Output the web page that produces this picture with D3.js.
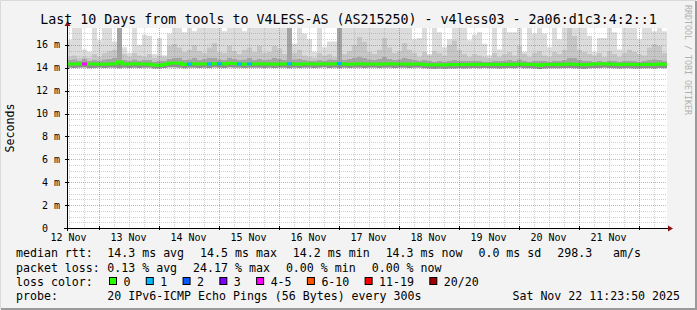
<!DOCTYPE html>
<html>
<head>
<meta charset="utf-8">
<script src="https://cdn.jsdelivr.net/npm/d3@7"></script>
<style>
  body { margin: 0; background: #f3f3f3; }
  svg { display: block; }
  text { font-family: "DejaVu Sans Mono", monospace; white-space: pre; }
</style>
</head>
<body>
<svg id="chart" width="697" height="310"></svg>
<script>
// data, one value per 2h column (120 columns = 10 days)
var startTime = Date.UTC(2025, 10, 12, 11, 23, 50);
var stepMs = 2 * 3600 * 1000;

var median = [
  14.33,14.33,14.35,14.34,14.33,14.33,14.32,14.31,14.33,14.35,14.5,14.33,14.33,14.35,14.33,14.33,14.32,14.24,14.23,14.3,
  14.4,14.42,14.4,14.28,14.33,14.35,14.33,14.34,14.33,14.36,14.35,14.33,14.4,14.38,14.33,14.32,14.34,14.33,14.35,14.34,
  14.33,14.32,14.33,14.34,14.36,14.33,14.32,14.35,14.33,14.34,14.33,14.36,14.33,14.34,14.38,14.33,14.32,14.33,14.35,14.33,
  14.34,14.33,14.32,14.33,14.35,14.33,14.34,14.33,14.32,14.33,14.34,14.3,14.27,14.26,14.27,14.25,14.28,14.26,14.3,14.29,
  14.3,14.31,14.3,14.32,14.3,14.31,14.29,14.3,14.32,14.3,14.33,14.31,14.3,14.29,14.22,14.28,14.3,14.31,14.3,14.32,
  14.33,14.31,14.3,14.26,14.3,14.34,14.33,14.35,14.33,14.31,14.3,14.32,14.31,14.3,14.28,14.3,14.31,14.3,14.33,14.31
];
// lowest ping
var lowPing = [
  14.0,13.98,14.0,14.02,13.97,13.99,14.0,13.98,14.01,14.0,13.96,14.0,13.99,14.01,13.98,14.0,14.0,13.95,13.94,13.99,
  14.02,14.03,14.0,13.97,14.0,14.01,13.99,14.0,13.98,14.02,14.0,13.99,14.03,14.01,14.0,13.98,14.0,14.01,14.0,13.99,
  14.0,13.99,14.0,14.01,13.96,14.0,13.98,14.01,14.0,13.99,14.0,14.02,13.99,14.0,13.97,14.0,13.99,14.0,14.01,13.99,
  14.0,14.0,13.98,14.0,14.01,13.99,14.0,14.0,13.98,14.0,14.0,13.96,13.93,13.92,13.94,13.92,13.95,13.93,13.96,13.95,
  13.97,13.98,13.96,13.98,13.97,13.96,13.95,13.97,13.98,13.96,14.0,13.97,13.96,13.95,13.9,13.94,13.96,13.97,13.96,13.98,
  13.98,13.96,13.95,13.92,13.96,13.99,13.98,14.0,13.98,13.96,13.95,13.97,13.96,13.95,13.94,13.96,13.97,13.95,13.98,13.96
];
// upper edge of the dark smoke band
var smokeInner = [
  14.7,14.75,14.65,14.8,14.6,14.7,14.65,14.75,14.8,14.9,18,14.7,14.6,14.75,14.65,14.7,14.7,14.55,14.6,14.65,
  14.8,14.85,14.9,14.7,14.75,14.85,14.7,14.8,14.9,14.85,14.75,14.7,14.9,14.8,14.7,14.75,14.85,14.7,14.8,14.7,
  14.75,14.9,14.8,14.7,18,14.75,14.8,14.7,14.65,14.6,14.7,14.65,14.75,14.7,18,14.7,14.8,14.9,15.0,14.85,
  14.75,14.7,14.8,14.95,14.8,14.7,14.75,14.85,14.8,14.7,14.65,14.7,14.6,14.55,14.6,14.55,14.65,14.7,14.6,14.65,
  14.6,14.65,14.6,14.55,14.5,14.65,14.6,14.65,14.7,14.6,14.75,14.6,14.55,14.6,14.65,14.6,14.55,14.65,14.6,14.7,
  14.9,14.85,14.7,14.65,14.6,14.55,14.6,14.55,14.65,14.6,14.55,14.6,14.65,14.6,14.55,14.6,14.7,14.75,14.7,14.6
];
// upper edge of the medium smoke band
var smokeMid = [
  15.0,15.1,14.9,15.0,14.9,15.2,15.0,15.3,15.5,15.6,16.0,15.2,15.0,15.3,15.1,15.0,15.2,14.9,15.1,15.0,
  15.9,16.1,15.8,15.4,15.6,16.0,15.5,15.3,15.8,16.2,15.4,15.3,15.9,15.5,15.2,15.6,15.8,15.4,15.9,15.3,
  15.4,15.9,15.7,15.2,15.5,15.3,15.6,15.1,15.0,14.9,15.3,15.1,15.2,15.0,15.6,15.2,15.5,16.0,16.7,16.3,
  15.4,15.2,15.6,16.6,15.8,15.3,15.5,16.2,15.6,15.3,15.0,15.4,15.1,15.5,15.3,15.1,16.0,16.4,15.6,15.2,
  15.0,15.2,15.1,15.0,14.9,15.3,15.0,15.2,15.4,15.1,15.9,15.2,15.0,15.3,15.5,15.1,15.0,15.4,15.2,15.6,
  17.5,16.8,15.6,15.4,15.2,15.1,15.3,15.0,15.5,15.2,15.0,15.3,15.6,15.4,15.2,15.1,15.8,16.1,15.9,15.3
];
// highest ping (values above the top are clipped)
var highPing = [
  16.4,18,18,15.6,15.4,18,16.4,18,18,16.3,18,15.8,15.3,18,16.0,16.9,16.8,15.2,16.6,15.1,
  17.0,18,18,17.1,18,17.2,18,18,18,18,18,17.2,18,18,18,17.2,18,18,18,18,
  18,18,18,18,18,16.1,18,17.0,16.5,15.4,18,15.8,16.3,16.3,18,18,18,18,18,18,
  18,18,18,18,18,18,18,18,18,16.5,16.6,18,15.2,18,17.1,15.8,16.5,18,18,18,
  16.4,16.9,17.1,16.1,15.1,18,15.6,18,17.1,17.1,18,15.4,18,17.0,18,17.0,15.8,18,16.5,18,
  18,18,18,18,16.8,15.4,16.6,16.6,18,17.1,15.6,18,18,18,16.5,18,18,17.2,18,17.2
];
// columns with packet loss (pings lost out of 20)
var lossColumns = [3, 24, 28, 30, 34, 36, 44, 54];
var lossCounts  = [4, 1, 1, 1, 1, 1, 1, 1];

var lossLabels = ["0", "1", "2", "3", "4-5", "6-10", "11-19", "20/20"];
var lossLimits = [0, 1, 2, 3, 5, 10, 19, 20];
var lossColors = ["#26ff00", "#00b8ff", "#0059ff", "#7e00ff", "#ff00ff", "#ff5500", "#ff0000", "#a10000"];

var rttStats  = ["14.3 ms avg", "14.5 ms max", "14.2 ms min", "14.3 ms now", "0.0 ms sd", "298.3   am/s"];
var lossStats = ["0.13 % avg", "24.17 % max", "0.00 % min", "0.00 % now"];

var titleText = "Last 10 Days from tools to V4LESS-AS (AS215250) - v4less03 - 2a06:d1c3:4:2::1";
var probeText = "20 IPv6-ICMP Echo Pings (56 Bytes) every 300s";
var stampText = "Sat Nov 22 11:23:50 2025";

// ---- layout
var W = 697, H = 310;
var plotL = 67, plotR = 667, plotT = 28, plotB = 228;

var svg = d3.select("#chart");

var x = d3.scaleUtc()
    .domain([new Date(startTime), new Date(startTime + median.length * stepMs)])
    .range([plotL, plotR]);
var y = d3.scaleLinear()
    .domain([0, 17.48])
    .range([plotB, plotT]);

// frame
svg.append("rect").attr("width", W).attr("height", H).attr("fill", "#f3f3f3");
svg.append("path").attr("d", "M0.5," + (H - 1) + "V0.5H" + (W - 1))
    .attr("stroke", "#dadada").attr("fill", "none");
svg.append("path").attr("d", "M1," + (H - 1) + "H" + (W - 1) + "V1")
    .attr("stroke", "#9a9a9a").attr("stroke-width", 2).attr("fill", "none");

svg.append("rect")
    .attr("x", plotL).attr("y", plotT)
    .attr("width", plotR - plotL).attr("height", plotB - plotT)
    .attr("fill", "#ffffff");

svg.append("clipPath").attr("id", "plotclip")
  .append("rect")
    .attr("x", plotL).attr("y", plotT)
    .attr("width", plotR - plotL).attr("height", plotB - plotT);

// rows for the step areas, last column repeated at the end time
var rows = median.map(function(m, i) {
  return { t: new Date(startTime + i * stepMs), med: m, lo: lowPing[i],
           inner: smokeInner[i], mid: smokeMid[i], hi: highPing[i] };
});
rows.push(Object.assign({}, rows[rows.length - 1], { t: new Date(startTime + median.length * stepMs) }));

var plot = svg.append("g").attr("clip-path", "url(#plotclip)");

// smoke bands, lightest on the outside
var bands = [
  { lo: "mid",   hi: "hi",    color: "#dcdcdc" },
  { lo: "inner", hi: "mid",   color: "#c6c6c6" },
  { lo: "med",   hi: "inner", color: "#a4a4a4" },
  { lo: "lo",    hi: "med",   color: "#8e8e8e" }
];
bands.forEach(function(b) {
  var area = d3.area()
      .curve(d3.curveStepAfter)
      .x(function(d) { return x(d.t); })
      .y0(function(d) { return y(d[b.lo]); })
      .y1(function(d) { return y(d[b.hi]); });
  plot.append("path")
      .datum(rows)
      .attr("d", area)
      .attr("fill", b.color);
});

// minor grid
var grid = svg.append("g");
var minorY = d3.range(0.5, 17.5, 0.5).filter(function(v) { return v % 2 !== 0; });
var majorY = d3.range(2, 17, 2);
grid.selectAll("line.minory").data(minorY).enter().append("line")
    .attr("x1", plotL).attr("x2", plotR)
    .attr("y1", function(d) { return Math.round(y(d)) + 0.5; })
    .attr("y2", function(d) { return Math.round(y(d)) + 0.5; })
    .attr("stroke", "rgba(140,140,140,0.4)").attr("stroke-dasharray", "1,1");

var days = d3.utcDay.range(x.domain()[0], x.domain()[1]);
var sixHours = d3.utcHour.every(6).range(x.domain()[0], x.domain()[1])
    .filter(function(d) { return d.getUTCHours() !== 0; });
grid.selectAll("line.minorx").data(sixHours).enter().append("line")
    .attr("y1", plotT).attr("y2", plotB)
    .attr("x1", function(d) { return Math.round(x(d)) + 0.5; })
    .attr("x2", function(d) { return Math.round(x(d)) + 0.5; })
    .attr("stroke", "rgba(140,140,140,0.4)").attr("stroke-dasharray", "1,1");

// median line coloured by loss
var medLine = d3.line()
    .curve(d3.curveStepAfter)
    .x(function(d) { return x(d.t); })
    .y(function(d) { return y(d.med); });
svg.append("path")
    .datum(rows)
    .attr("d", medLine)
    .attr("fill", "none")
    .attr("stroke", lossColors[0])
    .attr("stroke-width", 3);

function lossColor(n) {
  for (var k = 0; k < lossLimits.length; k++) {
    if (n <= lossLimits[k]) return lossColors[k];
  }
  return lossColors[lossColors.length - 1];
}
lossColumns.forEach(function(c, k) {
  svg.append("path")
      .datum([rows[c], { t: rows[c + 1].t, med: rows[c].med }])
      .attr("d", d3.line().x(function(d) { return x(d.t); }).y(function(d) { return y(d.med); }))
      .attr("stroke", lossColor(lossCounts[k]))
      .attr("stroke-width", 3);
});

// major grid on top
svg.append("g").selectAll("line").data(majorY).enter().append("line")
    .attr("x1", plotL).attr("x2", plotR)
    .attr("y1", function(d) { return Math.round(y(d)) + 0.5; })
    .attr("y2", function(d) { return Math.round(y(d)) + 0.5; })
    .attr("stroke", "rgba(225,40,40,0.45)").attr("stroke-dasharray", "1,1");
svg.append("g").selectAll("line").data(days).enter().append("line")
    .attr("y1", plotT).attr("y2", plotB)
    .attr("x1", function(d) { return Math.round(x(d)) + 0.5; })
    .attr("x2", function(d) { return Math.round(x(d)) + 0.5; })
    .attr("stroke", "rgba(225,40,40,0.45)").attr("stroke-dasharray", "1,1");

// axes
var axis = svg.append("g");
axis.append("line").attr("x1", plotL - 3).attr("x2", plotR + 1)
    .attr("y1", plotB + 0.5).attr("y2", plotB + 0.5).attr("stroke", "#000");
axis.append("line").attr("x1", plotL + 0.5).attr("x2", plotL + 0.5)
    .attr("y1", plotB + 3).attr("y2", plotT - 3).attr("stroke", "#000");
axis.append("path").attr("d", "M" + (plotR + 1) + "," + (plotB - 2.5) + "L" + (plotR + 6) + "," + (plotB + 0.5) + "L" + (plotR + 1) + "," + (plotB + 3.5) + "Z")
    .attr("fill", "#8b1010");
axis.append("path").attr("d", "M" + (plotL - 2.5) + "," + (plotT - 2) + "L" + (plotL + 0.5) + "," + (plotT - 7) + "L" + (plotL + 3.5) + "," + (plotT - 2) + "Z")
    .attr("fill", "#8b1010");
axis.selectAll("line.ty").data(majorY.concat([0])).enter().append("line")
    .attr("x1", plotL - 2).attr("x2", plotL + 2)
    .attr("y1", function(d) { return Math.round(y(d)) + 0.5; })
    .attr("y2", function(d) { return Math.round(y(d)) + 0.5; })
    .attr("stroke", "#000");
axis.selectAll("line.tx").data(days).enter().append("line")
    .attr("y1", plotB - 2).attr("y2", plotB + 2)
    .attr("x1", function(d) { return Math.round(x(d)) + 0.5; })
    .attr("x2", function(d) { return Math.round(x(d)) + 0.5; })
    .attr("stroke", "#000");

// tick labels
svg.append("g").selectAll("text").data([0].concat(majorY)).enter().append("text")
    .attr("x", 60)
    .attr("y", function(d) { return y(d) + 3.5; })
    .attr("text-anchor", "end")
    .attr("font-size", "10px")
    .text(function(d) { return d === 0 ? "0  " : d + " m"; });

// day labels sit at noon, in the middle of each day
var noons = d3.utcHour.range(x.domain()[0], x.domain()[1])
    .filter(function(d) { return d.getUTCHours() === 12; });
var fmtDay = d3.utcFormat("%d %b");
svg.append("g").selectAll("text").data(noons).enter().append("text")
    .attr("x", function(d) { return x(d); })
    .attr("y", 240.5)
    .attr("text-anchor", "middle")
    .attr("font-size", "10px")
    .text(function(d) { return fmtDay(d); });

// titles
svg.append("text")
    .attr("x", W / 2).attr("y", 24)
    .attr("text-anchor", "middle")
    .attr("font-size", "13.3px")
    .text(titleText);

svg.append("text")
    .attr("transform", "translate(14," + ((plotT + plotB) / 2) + ") rotate(-90)")
    .attr("text-anchor", "middle")
    .attr("font-size", "11.6px")
    .text("Seconds");

svg.append("text")
    .attr("transform", "translate(685,5) rotate(90)")
    .attr("font-size", "8.3px")
    .attr("fill", "#b0b0b0")
    .text("RRDTOOL / TOBI OETIKER");

// legend, items are placed one after the other with a fixed glue like rrdtool
var legend = svg.append("g").attr("font-size", "11.6px");
var glue = 16;
function legendRow(label, items, baseline) {
  legend.append("text").attr("x", 16).attr("y", baseline).text(label);
  var cx = 107.3;
  items.forEach(function(s) {
    var t = legend.append("text").attr("x", cx).attr("y", baseline).text(s);
    cx = cx + t.node().getComputedTextLength() + glue;
  });
}
legendRow("median rtt:", rttStats, 257);
legendRow("packet loss:", lossStats, 271.5);

legend.append("text").attr("x", 16).attr("y", 286).text("loss color:");
var cursor = 109;
lossLabels.forEach(function(lab, i) {
  legend.append("rect")
      .attr("x", cursor + 0.5).attr("y", 277.5)
      .attr("width", 7).attr("height", 7)
      .attr("fill", lossColors[i]).attr("stroke", "#000");
  var t = legend.append("text").attr("x", cursor + 14.5).attr("y", 286).text(lab);
  cursor = cursor + 14.5 + t.node().getComputedTextLength() + 15.3;
});
legendRow("probe:", [probeText], 300);
legend.append("text").attr("x", 680).attr("y", 300).attr("text-anchor", "end").text(stampText);
</script>
</body>
</html>
